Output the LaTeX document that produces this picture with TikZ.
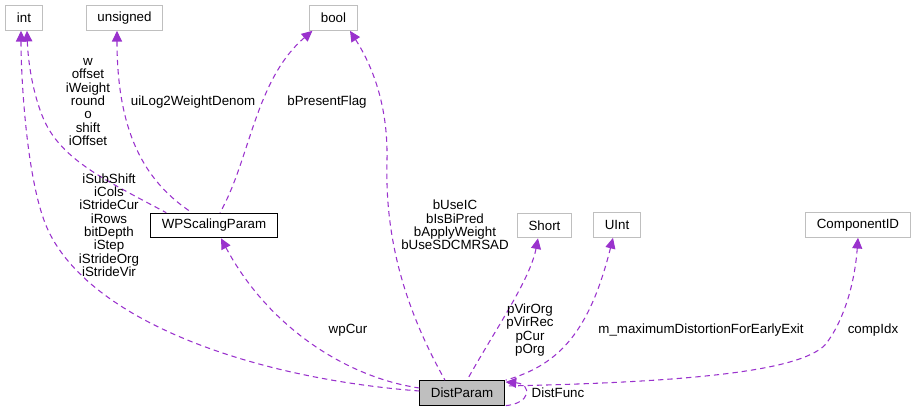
\documentclass[tikz,border=0pt]{standalone}
\usepackage{fontspec}
\setmainfont{Liberation Sans}
\usepackage{xcolor}
\usetikzlibrary{arrows.meta,calc}
\definecolor{memberPurple}{HTML}{9A32CD}
\definecolor{boxGray}{HTML}{BFBFBF}

\begin{document}
\begin{tikzpicture}[
    x=0.75pt, y=-0.75pt,
    typebox/.style={draw=boxGray, fill=white, line width=0.75pt, minimum height=18.5pt, inner xsep=8.25pt, inner ysep=0pt, font=\fontsize{10}{10}\selectfont},
    classbox/.style={typebox, draw=black},
    mainbox/.style={typebox, draw=black, fill=boxGray},
    member/.style={{Triangle[length=8pt,width=7.5pt]}-, draw=memberPurple, line width=0.8pt, dash pattern=on 4pt off 3pt},
    lbl/.style={align=center, inner sep=0pt, font=\fontsize{10}{10}\selectfont}
  ]
    \useasboundingbox (0,0) rectangle (915,411);

    % types
    \node[typebox] (int) at (24,18) {int};
    \node[typebox] (unsigned) at (124.5,18) {unsigned};
    \node[typebox] (bool) at (333.5,18) {bool};
    \node[classbox] (wp) at (214,225.5) {WPScalingParam};
    \node[typebox] (short) at (544.5,225.5) {Short};
    \node[typebox] (uint) at (617,225) {UInt};
    \node[typebox] (compid) at (858,225) {ComponentID};
    \node[mainbox] (dist) at (462,393) {DistParam};

    % members
    \draw[member] ($(int.south)+(-3,0)$) .. controls (21,80) and (27,185) .. (48,230)
      .. controls (90,320) and (250,378) .. ($(dist.west)+(0,-2)$);
    \draw[member] ($(int.south)+(3,0)$) .. controls (28,62) and (33,95) .. (44,120)
      .. controls (62,160) and (105,180) .. ($(wp.north west)+(16,0)$);
    \draw[member] ($(unsigned.south)+(-7.5,0)$) .. controls (117,140) and (150,185) .. ($(wp.north)+(-22,0)$);
    \draw[member] ($(bool.south west)+(3,0)$) .. controls (255,80) and (250,160) .. ($(wp.north)+(6,0)$);
    \draw[member] ($(bool.south)+(16.5,0)$) .. controls (375,70) and (388,110) .. (387,160)
      .. controls (385,230) and (400,300) .. ($(dist.north)+(-17,0)$);
    \draw[member] ($(short.south)+(-6.5,0)$) .. controls (530,280) and (495,330) .. ($(dist.north)+(5,0)$);
    \draw[member] ($(uint.south)+(-4,0)$) .. controls (590,330) and (560,365) .. ($(dist.north east)+(1,0)$);
    \draw[member] (compid.south) .. controls (855,280) and (845,320) .. (825,345)
      .. controls (800,370) and (700,382) .. ($(dist.east)+(1,-7)$);
    \draw[member] ($(wp.south)+(7,0)$) .. controls (270,330) and (350,378) .. ($(dist.west)+(0,-5)$);
    \draw[member] ($(dist.east)+(1,-11)$) .. controls (532,384) and (532,404) .. ($(dist.south east)+(-1,0)$);

    % member names
    \node[lbl] (intl) at (109,225) {iSubShift\\iCols\\iStrideCur\\iRows\\bitDepth\\iStep\\iStrideOrg\\iStrideVir};
    \node[lbl] (wpintl) at (88,102) {w\\offset\\iWeight\\round\\o\\shift\\iOffset};
    \node[lbl] (unsl) at (193,102) {uiLog2WeightDenom};
    \node[lbl] (wpbooll) at (327,102) {bPresentFlag};
    \node[lbl] (booll) at (455,225) {bUseIC\\bIsBiPred\\bApplyWeight\\bUseSDCMRSAD};
    \node[lbl] (shortl) at (530,330) {pVirOrg\\pVirRec\\pCur\\pOrg};
    \node[lbl] (uintl) at (701,330) {m\_maximumDistortionForEarlyExit};
    \node[lbl] (compl) at (873,330) {compIdx};
    \node[lbl] (wpl) at (348,330) {wpCur};
    \node[lbl] (funcl) at (558,393) {DistFunc};
  \end{tikzpicture}
\end{document}
